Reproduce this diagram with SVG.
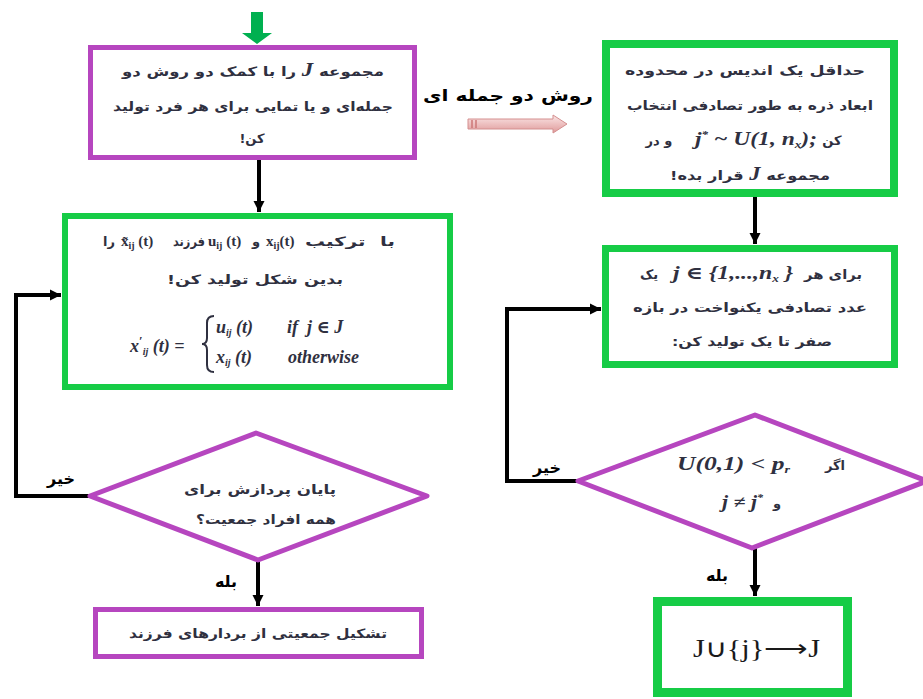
<svg xmlns="http://www.w3.org/2000/svg" width="923" height="699" viewBox="0 0 923 699">
<defs>
<marker id="ah" markerUnits="userSpaceOnUse" markerWidth="12" markerHeight="12" refX="11" refY="6" orient="auto">
<path d="M0,0.5 L11,6 L0,11.5 Z" fill="#000"/>
</marker>
<linearGradient id="pk" x1="0" y1="0" x2="0" y2="1">
<stop offset="0" stop-color="#fbe6e6"/>
<stop offset="1" stop-color="#df9a9a"/>
</linearGradient>
<style>
.pb{fill:#fff;stroke:#b646bf;stroke-width:5}
.gb{fill:#fff;stroke:#16cc46}
.fa{font-family:"DejaVu Sans",sans-serif;font-weight:bold;font-size:13px;fill:#2f3040;text-anchor:middle}
.lb{font-family:"DejaVu Sans",sans-serif;font-weight:bold;font-size:16px;fill:#000;text-anchor:middle}
.m{font-family:"Liberation Serif","DejaVu Serif",serif;font-weight:bold;font-style:italic;font-size:18px;fill:#2f3040}
.mr{font-family:"Liberation Serif","DejaVu Serif",serif;font-weight:bold;font-size:15px;fill:#2f3040}
.sb{font-size:10px}
.cn{fill:none;stroke:#000;stroke-width:4}
</style>
</defs>

<g id="start-arrow">
<polygon points="251,12 263,12 263,33 272,33 257,44 242,33 251,33" fill="#00b050"/>
</g>

<g id="connectors">
<line class="cn" x1="259" y1="160" x2="259" y2="212" marker-end="url(#ah)"/>
<polyline class="cn" points="90,496 16,496 16,295 61,295" marker-end="url(#ah)"/>
<line class="cn" x1="258" y1="560" x2="258" y2="606" marker-end="url(#ah)"/>
<line class="cn" x1="755" y1="197" x2="755" y2="244" marker-end="url(#ah)"/>
<polyline class="cn" points="578,481 507,481 507,309 601,309" marker-end="url(#ah)"/>
<line class="cn" x1="755" y1="548" x2="755" y2="596" marker-end="url(#ah)"/>
<g id="binomial-arrow">
<path d="M468,119 L553,119 L553,115 L567,124 L553,133 L553,129 L468,129 Z" fill="url(#pk)" stroke="#d48f8f" stroke-width="1"/>
<line x1="472" y1="120" x2="472" y2="128" stroke="#c77" stroke-width="1.5"/>
<line x1="476" y1="120" x2="476" y2="128" stroke="#c77" stroke-width="1.5"/>
</g>
<text class="lb" x="508" y="101" direction="rtl" textLength="170" lengthAdjust="spacingAndGlyphs">روش دو جمله ای</text>
<text class="lb" x="61" y="484" font-size="17">خیر</text>
<text class="lb" x="226" y="587">بله</text>
<text class="lb" x="547" y="473" font-size="17">خیر</text>
<text class="lb" x="717" y="581">بله</text>
</g>

<g id="node-init">
<rect class="pb" x="90.5" y="47.5" width="324" height="110"/>
<text class="fa" x="253" y="76" direction="rtl" textLength="262" lengthAdjust="spacingAndGlyphs">مجموعه <tspan class="m" font-size="15">J</tspan> را با کمک دو روش دو</text>
<text class="fa" x="253" y="111" direction="rtl" textLength="280" lengthAdjust="spacingAndGlyphs">جمله‌ای و یا تمایی برای هر فرد تولید</text>
<text class="fa" x="252" y="143" direction="rtl">کن!</text>
</g>

<g id="node-select">
<rect class="gb" x="606" y="44" width="288" height="149" stroke-width="8"/>
<text class="fa" x="745" y="75" direction="rtl" textLength="240" lengthAdjust="spacingAndGlyphs">حداقل یک اندیس در محدوده</text>
<text class="fa" x="750" y="110" direction="rtl" textLength="246" lengthAdjust="spacingAndGlyphs">ابعاد ذره به طور تصادفی انتخاب</text>
<text class="fa" x="659" y="145" direction="rtl">و در</text>
<text class="m" x="695" y="145" textLength="122" lengthAdjust="spacingAndGlyphs">j<tspan class="sb" dy="-7">*</tspan><tspan dy="7"> ~ U(1, n</tspan><tspan class="sb" dy="3">x</tspan><tspan dy="-3">);</tspan></text>
<text class="fa" x="832" y="145" direction="rtl">کن</text>
<text class="fa" x="750" y="180" direction="rtl" textLength="160" lengthAdjust="spacingAndGlyphs">مجموعه <tspan class="m" font-size="15">J</tspan> قرار بده!</text>
</g>

<g id="node-child">
<rect class="gb" x="65" y="216" width="385" height="171" stroke-width="6" stroke="#1fb84a"/>
<text class="fa" x="109" y="246" direction="rtl">را</text>
<text class="mr" x="121" y="246">x̃<tspan class="sb" dy="3">ij</tspan><tspan dy="-3"> (t)</tspan></text>
<text class="fa" x="189" y="246" direction="rtl" textLength="32" lengthAdjust="spacingAndGlyphs">فرزند</text>
<text class="mr" x="208" y="246">u<tspan class="sb" dy="3">ij</tspan><tspan dy="-3"> (t)</tspan></text>
<text class="fa" x="256" y="246" direction="rtl">و</text>
<text class="mr" x="266" y="246">x<tspan class="sb" dy="3">ij</tspan><tspan dy="-3">(t)</tspan></text>
<text class="fa" x="350" y="246" direction="rtl" font-size="15" word-spacing="5" textLength="90" lengthAdjust="spacingAndGlyphs">با ترکیب</text>
<text class="fa" x="255" y="284" direction="rtl" textLength="176" lengthAdjust="spacingAndGlyphs">بدین شکل تولید کن!</text>
<text class="m" x="130" y="352" font-size="20">x<tspan font-style="normal" font-size="13" dy="-7">′</tspan><tspan class="sb" dy="10">ij</tspan><tspan dy="-3"> (t) =</tspan></text>
<path d="M214,316 Q207,316 207,323 L207,338 Q207,344 202,344 Q207,344 207,350 L207,365 Q207,372 214,372" fill="none" stroke="#2f3040" stroke-width="2"/>
<text class="m" x="216" y="333" font-size="19">u<tspan class="sb" dy="3">ij</tspan><tspan dy="-3"> (t)</tspan></text>
<text class="m" x="287" y="333" font-size="19" xml:space="preserve">if  j ∈ J</text>
<text class="m" x="216" y="363" font-size="19">x<tspan class="sb" dy="3">ij</tspan><tspan dy="-3"> (t)</tspan></text>
<text class="m" x="288" y="363" font-size="19">otherwise</text>
</g>

<g id="node-uniform">
<rect class="gb" x="605.5" y="248.5" width="289" height="116" stroke-width="7"/>
<text class="fa" x="649" y="279" direction="rtl">یک</text>
<text class="m" x="673" y="279" textLength="120" lengthAdjust="spacingAndGlyphs">j ∈ {1,...,n<tspan class="sb" dy="3">x</tspan><tspan dy="-3"> }</tspan></text>
<text class="fa" x="833" y="279" direction="rtl" textLength="58" lengthAdjust="spacingAndGlyphs">برای هر</text>
<text class="fa" x="750" y="312" direction="rtl" textLength="234" lengthAdjust="spacingAndGlyphs">عدد تصادفی یکنواخت در بازه</text>
<text class="fa" x="752" y="346" direction="rtl" textLength="160" lengthAdjust="spacingAndGlyphs">صفر تا یک تولید کن:</text>
</g>

<g id="node-end-check">
<polygon points="90,496 256,433 427,496 258,560" fill="#fff" stroke="#b646bf" stroke-width="5" stroke-linejoin="round"/>
<text class="fa" x="260" y="494" direction="rtl" textLength="152" lengthAdjust="spacingAndGlyphs">پایان  پردازش  برای</text>
<text class="fa" x="266" y="524" direction="rtl" textLength="140" lengthAdjust="spacingAndGlyphs">همه افراد جمعیت؟</text>
</g>

<g id="node-population">
<rect class="pb" x="95.5" y="609.5" width="326" height="47"/>
<text class="fa" x="258" y="638" direction="rtl" textLength="258" lengthAdjust="spacingAndGlyphs">تشکیل جمعیتی از بردارهای فرزند</text>
</g>

<g id="node-prob-check">
<polygon points="578,481 755,415 927,481 752,548" fill="#fff" stroke="#b646bf" stroke-width="5" stroke-linejoin="round"/>
<text class="fa" x="835" y="470" direction="rtl">اگر</text>
<text class="m" x="677" y="470" textLength="113" lengthAdjust="spacingAndGlyphs">U(0,1) &lt; p<tspan class="sb" dy="3">r</tspan></text>
<text class="m" x="722" y="508" textLength="41" lengthAdjust="spacingAndGlyphs">j ≠ j<tspan class="sb" dy="-7">*</tspan></text>
<text class="fa" x="777" y="508" direction="rtl">و</text>
</g>

<g id="node-update">
<rect class="gb" x="657.5" y="601.5" width="190" height="91" stroke-width="9"/>
<text x="693" y="657" font-family="Liberation Serif,serif" font-size="25" fill="#1a1a1a" textLength="127" lengthAdjust="spacingAndGlyphs">J∪{j}⟶J</text>
</g>
</svg>
